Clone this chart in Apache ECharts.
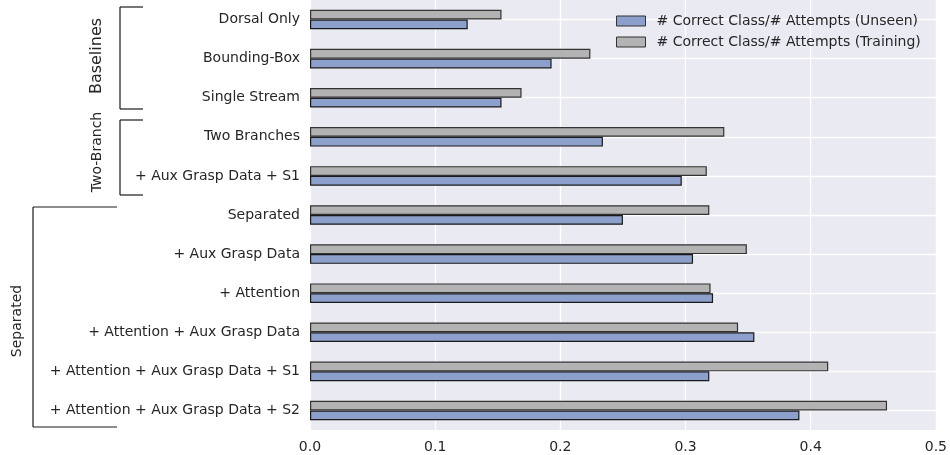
<!DOCTYPE html>
<html>
<head>
<meta charset="utf-8">
<script src="https://cdn.jsdelivr.net/npm/echarts@6/dist/echarts.min.js"></script>
<style>
  html, body { margin: 0; padding: 0; background: #ffffff; }
  #chart { width: 950px; height: 455px; }
</style>
</head>
<body>
<div id="chart"></div>
<script>
// Model variants, listed top to bottom
const categories = [
  'Dorsal Only',
  'Bounding-Box',
  'Single Stream',
  'Two Branches',
  '+ Aux Grasp Data + S1',
  'Separated',
  '+ Aux Grasp Data',
  '+ Attention',
  '+ Attention + Aux Grasp Data',
  '+ Attention + Aux Grasp Data + S1',
  '+ Attention + Aux Grasp Data + S2'
];

// # correct class / # attempts on training objects
const trainingRatio = [0.153, 0.224, 0.169, 0.331, 0.317, 0.319, 0.349, 0.320, 0.342, 0.414, 0.461];
// # correct class / # attempts on unseen objects
const unseenRatio = [0.126, 0.193, 0.153, 0.234, 0.297, 0.250, 0.306, 0.322, 0.355, 0.319, 0.391];

const xTicks = [0.0, 0.1, 0.2, 0.3, 0.4, 0.5];

const seriesNames = [
  '# Correct Class/# Attempts (Unseen)',
  '# Correct Class/# Attempts (Training)'
];

const FONT = 'DejaVu Sans';
const TEXT = '#262626';

const chart = echarts.init(document.getElementById('chart'), null, { renderer: 'canvas' });

const bracketStyle = { stroke: '#1a1a1a', lineWidth: 1.2 };

function bracket(x, xEnd, yTop, yBottom) {
  return [
    { type: 'line', shape: { x1: x, y1: yTop, x2: x, y2: yBottom }, style: bracketStyle, silent: true },
    { type: 'line', shape: { x1: x, y1: yTop, x2: xEnd, y2: yTop }, style: bracketStyle, silent: true },
    { type: 'line', shape: { x1: x, y1: yBottom, x2: xEnd, y2: yBottom }, style: bracketStyle, silent: true }
  ];
}

function sideLabel(text, x, y, size) {
  return {
    type: 'text', x: x, y: y, rotation: Math.PI / 2, silent: true,
    style: { text: text, fontFamily: FONT, fontSize: size, fill: TEXT, align: 'center', verticalAlign: 'middle' }
  };
}

const option = {
  animation: false,
  backgroundColor: '#ffffff',
  grid: {
    left: 310, right: 14, top: 0, bottom: 25,
    show: true, backgroundColor: '#eaeaf2', borderWidth: 0
  },
  legend: {
    orient: 'vertical',
    left: 611, top: 9,
    icon: 'rect',
    itemWidth: 29, itemHeight: 10, itemGap: 7,
    data: seriesNames,
    itemStyle: { borderWidth: 1, borderColor: '#333333' },
    textStyle: { fontFamily: FONT, fontSize: 14, color: TEXT, padding: [0, 0, 0, 6] }
  },
  xAxis: {
    type: 'value',
    min: 0, max: 0.5, interval: 0.1,
    axisLine: { show: false },
    axisTick: { show: false },
    splitLine: { show: true, lineStyle: { color: '#ffffff', width: 1.3 } },
    axisLabel: {
      margin: 10, fontFamily: FONT, fontSize: 14, color: TEXT,
      formatter: v => {
        const t = xTicks.find(k => Math.abs(k - v) < 1e-9);
        return t === undefined ? '' : t.toFixed(1);
      }
    }
  },
  yAxis: {
    type: 'category',
    data: categories,
    inverse: true,
    axisLine: { show: false },
    axisTick: { show: false },
    splitLine: { show: true, alignWithLabel: true, lineStyle: { color: '#ffffff', width: 1.3 } },
    axisLabel: { margin: 10, fontFamily: FONT, fontSize: 14, color: TEXT }
  },
  series: [
    {
      name: seriesNames[1],
      type: 'bar',
      data: trainingRatio,
      barWidth: '25%',
      barGap: '0%',
      itemStyle: { color: '#b3b3b3', borderColor: '#333333', borderWidth: 1.2 }
    },
    {
      name: seriesNames[0],
      type: 'bar',
      data: unseenRatio,
      barWidth: '25%',
      barGap: '0%',
      itemStyle: { color: '#8da0cb', borderColor: '#1a1a1a', borderWidth: 1.2 }
    }
  ],
  graphic: [
    ...bracket(120, 143, 7, 109),
    ...bracket(120, 143, 120, 195),
    ...bracket(33, 117, 207, 427),
    sideLabel('Baselines', 97, 56, 16),
    sideLabel('Two-Branch', 97, 152, 14),
    sideLabel('Separated', 17, 321, 14)
  ]
};

chart.setOption(option);
</script>
</body>
</html>
